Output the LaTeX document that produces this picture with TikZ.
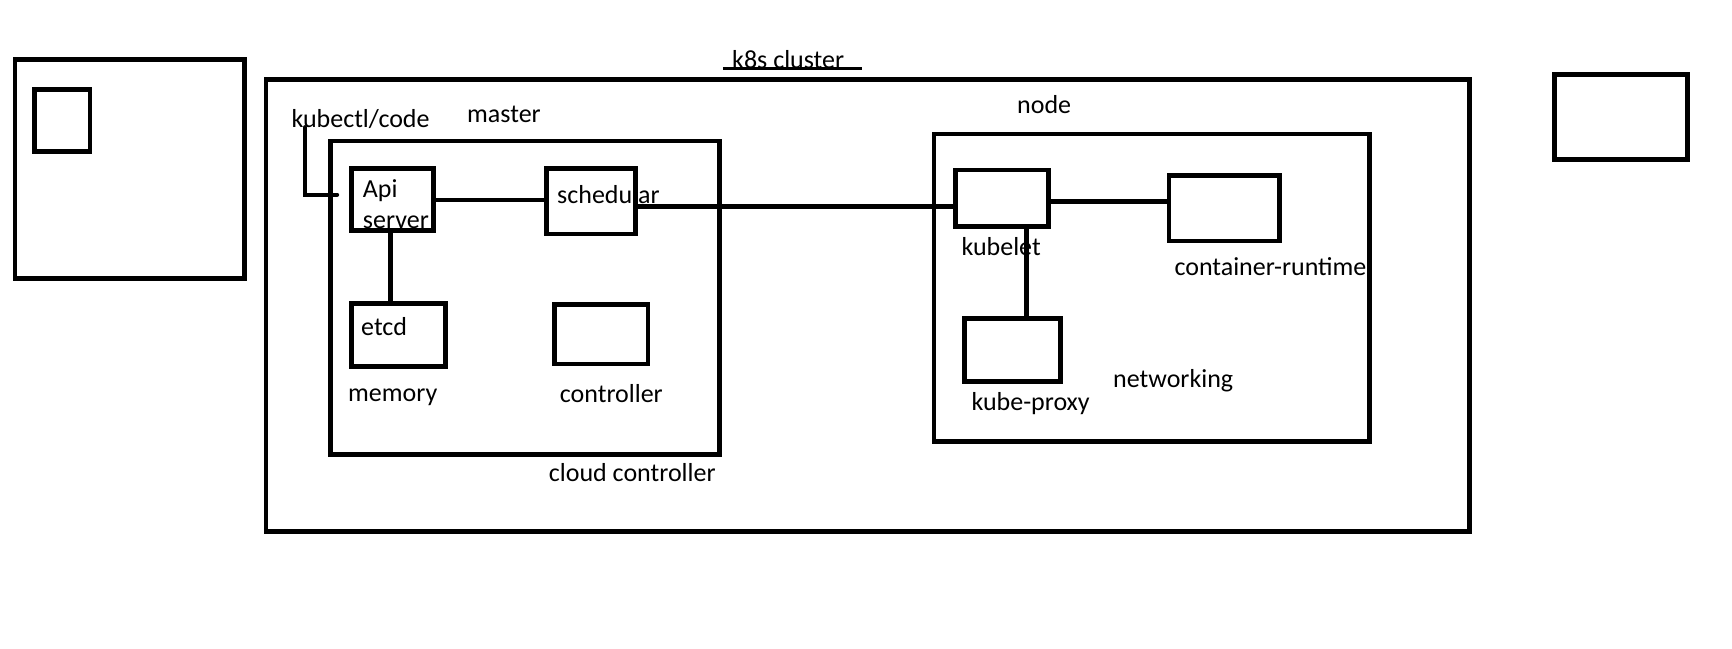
\documentclass[tikz,border=0pt]{standalone}
\usepackage{fontspec}
\setmainfont{Carlito}
\usepackage{tikz}

\begin{document}
\begin{tikzpicture}[x=0.5pt,y=-0.5pt,line width=2.2pt,
                    box/.style={draw,line width=2.3pt,inner sep=0pt},
                    lbl/.style={inner sep=0pt,anchor=base west,font=\fontsize{13}{15.5}\selectfont},
                    wire/.style={line width=2.2pt,line cap=round}]
                \useasboundingbox (0,0) rectangle (1732,648);
                \node[box,minimum width=114.7pt,minimum height=109.45pt] (leftbox) at (129.5,168.8) {};
                \node[box,minimum width=27.85pt,minimum height=31.05pt] (smallbox) at (62.3,120.7) {};
                \node[box,minimum width=66.6pt,minimum height=42.25pt] (rightbox) at (1621,117) {};
                \node[box,minimum width=601.75pt,minimum height=226pt] (cluster) at (867.8,305.5) {};
                \node[box,minimum width=194.5pt,minimum height=156.6pt] (master) at (525,297.6) {};
                \node[box,minimum width=41.15pt,minimum height=31pt] (api) at (392.5,199.7) {};
                \node[box,minimum width=44.7pt,minimum height=32.65pt] (sched) at (591,201.3) {};
                \node[box,minimum width=47pt,minimum height=31.3pt] (etcd) at (398.3,335) {};
                \node[box,minimum width=46.85pt,minimum height=29.65pt] (ctrl) at (601.2,334.3) {};
                \node[box,minimum width=217.85pt,minimum height=153.75pt] (nodebox) at (1151.7,287.6) {};
                \node[box,minimum width=46.5pt,minimum height=28.2pt] (kubelet) at (1002,198) {};
                \node[box,minimum width=55.35pt,minimum height=32.85pt] (runtime) at (1224.2,208.3) {};
                \node[box,minimum width=47.9pt,minimum height=31.3pt] (proxy) at (1012.6,350) {};
                \node[lbl] (title) at (730,68.5) {k8s cluster};
                \draw[line width=1.6pt] ([xshift=-3.6pt]title.base west) -- ([xshift=7.8pt]title.base east);
                \node[lbl] (kubectl) at (289.3,127.3) {kubectl/code};
                \node[lbl] (masterlbl) at (465,122.7) {master};
                \node[lbl,align=left] (apilbl) at (360.7,228.3) {Api\\server};
                \node[lbl] (schedlbl) at (555,203.3) {schedular};
                \node[lbl] (etcdlbl) at (359,335) {etcd};
                \node[lbl] (memory) at (346,401.7) {memory};
                \node[lbl] (ctrllbl) at (557.7,402.7) {controller};
                \node[lbl] (cloud) at (546.7,481.7) {cloud controller};
                \node[lbl] (nodelbl) at (1015,113.3) {node};
                \node[lbl] (kubeletlbl) at (959.3,255) {kubelet};
                \node[lbl] (runtimelbl) at (1172.3,275) {container-runtime};
                \node[lbl] (proxylbl) at (969.3,410) {kube-proxy};
                \node[lbl] (networking) at (1111,387.3) {networking};
                \coordinate (kin) at (305,127.3);
                \coordinate (kend) at (337,194.7);
                \draw[wire] (kin) |- (kend);
                \draw[wire] (api.east) -- (api.east -| sched.west);
                \draw[wire] ([yshift=-2.5pt]sched.east) -- ([yshift=-2.5pt]sched.east -| kubelet.west);
                \draw[wire] ([yshift=-1.8pt]kubelet.east) -- ([yshift=-1.8pt]kubelet.east -| runtime.west);
                \draw[wire] ([xshift=-1pt]api.south) -- ([xshift=-1pt]api.south |- etcd.north);
                \draw[wire] ([xshift=12.25pt]kubelet.south) -- ([xshift=12.25pt]kubelet.south |- proxy.north);
                \end{tikzpicture}
\end{document}
